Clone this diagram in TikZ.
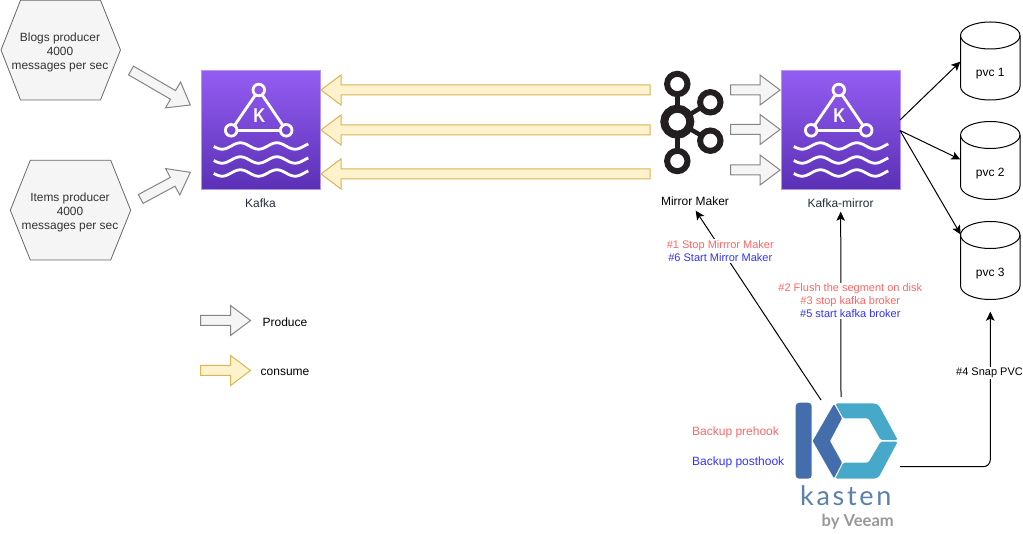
\documentclass[tikz,border=0pt]{standalone}
\usepackage{fontspec}
\setmainfont{Liberation Sans}
\newfontfamily\kastenfont[LetterSpace=10]{Lato}
\newfontfamily\veeamfont{Lato}
\usetikzlibrary{arrows.meta,calc}
\definecolor{hexfill}{HTML}{F5F5F5}
\definecolor{hexline}{HTML}{666666}
\definecolor{hextext}{HTML}{333333}
\definecolor{yelfill}{HTML}{FFF2CC}
\definecolor{yelline}{HTML}{D6B656}
\definecolor{purtop}{HTML}{945DF2}
\definecolor{purbot}{HTML}{5A30B5}
\definecolor{purline}{HTML}{B794F0}
\definecolor{awstext}{HTML}{232F3E}
\definecolor{hookred}{HTML}{FF6666}
\definecolor{hookblue}{HTML}{3333FF}
\definecolor{logoblack}{HTML}{231F20}
\definecolor{kblue}{HTML}{446DAB}
\definecolor{kteal}{HTML}{47A9C9}
\definecolor{kword}{HTML}{5B80AE}
\definecolor{kgrey}{HTML}{999999}
\tikzset{
  hexshape/.style={draw=hexline,fill=hexfill,line width=0.8pt,line join=miter},
  hextxt/.style={text=hextext,font=\fontsize{11.9}{14}\selectfont,align=center,inner sep=0pt},
  greyarrow/.style={draw=hexline!80,fill=hexfill,line width=1pt},
  yelarrow/.style={draw=yelline,fill=yelfill,line width=1pt},
  kafkabox/.style={draw=purline,line width=1pt,top color=purtop,bottom color=purbot,minimum width=119pt,minimum height=119pt,inner sep=0pt},
  iconline/.style={draw=white,line width=2.8pt,line cap=round},
  lbl/.style={font=\fontsize{11}{13}\selectfont,inner sep=0pt,align=center},
  biglbl/.style={lbl,font=\fontsize{12}{14}\selectfont},
  lblbg/.style={lbl,fill=white,inner sep=1pt},
  conn/.style={draw=black,line width=1pt,-{Stealth[length=9pt,width=8.5pt,inset=2pt]}},
  cyl/.style={draw=black,line width=1pt,fill=white},
  logoring/.style={draw=logoblack,line width=6pt},
  logobar/.style={draw=logoblack,line width=4.5pt}
}
% block arrow from named coordinate #1 to named coordinate #2
\newcommand{\blockarrow}[3]{%
  \coordinate (hb) at ($(#2)!20pt!(#1)$);
  \draw[#3] ($(#1)!5pt!90:(hb)$) -- ($(hb)!5pt!90:(#2)$) -- ($(hb)!15pt!90:(#2)$) -- (#2)
    -- ($(hb)!15pt!-90:(#2)$) -- ($(hb)!5pt!-90:(#2)$) -- ($(#1)!5pt!-90:(hb)$) -- cycle;
}
% kafka tile: #1 name, #2 x centre
\newcommand{\kafkatile}[2]{%
  \node[kafkabox] (#1) at (#2,130.5) {};
  \begin{scope}[shift={(#2-260,0)}]
    \coordinate (#1t) at (258.3,90);
    \coordinate (#1l) at (230.7,130.3);
    \coordinate (#1r) at (285.7,130.3);
    \draw[iconline,line cap=butt,shorten <=6pt,shorten >=6pt] (#1t) -- (#1l);
    \draw[iconline,line cap=butt,shorten <=6pt,shorten >=6pt] (#1t) -- (#1r);
    \draw[iconline,line cap=butt,shorten <=6pt,shorten >=6pt] (#1l) -- (#1r);
    \draw[iconline] (#1t) circle[radius=5.8pt];
    \draw[iconline] (#1l) circle[radius=5.8pt];
    \draw[iconline] (#1r) circle[radius=5.8pt];
    \node[text=white,font=\bfseries\fontsize{20}{20}\selectfont,inner sep=0pt,xscale=0.82] (#1k) at (258.7,116) {K};
    \foreach \yy in {146,160,173}{
      \draw[iconline,line cap=butt,smooth] plot[domain=0:94.5,samples=70] ({213.3+\x},{\yy+3.2*cos((\x-8.3)/36.5*360)});
    }
  \end{scope}
}
% cylinder: #1 name, #2 top y, #3 label
\newcommand{\pvc}[3]{%
  \begin{scope}[shift={(0,#2)}]
    \draw[cyl] (960.5,14) .. controls (960.5,6.5) and (974,0.5) .. (990.3,0.5)
      .. controls (1006.5,0.5) and (1020,6.5) .. (1020,14) -- (1020,65)
      .. controls (1020,72.5) and (1006.5,78.5) .. (990.3,78.5)
      .. controls (974,78.5) and (960.5,72.5) .. (960.5,65) -- cycle;
    \draw[draw=black,line width=1pt] (960.5,14) .. controls (960.5,21.5) and (974,27.5) .. (990.3,27.5)
      .. controls (1006.5,27.5) and (1020,21.5) .. (1020,14);
    \node[biglbl] (#1) at (990.3,52.5) {#3};
  \end{scope}
}
\begin{document}
\begin{tikzpicture}[x=1pt,y=-1pt]
\useasboundingbox (0,0) rectangle (1023,534);

% hexagons
\draw[hexshape] (1,50) -- (20.5,0.3) -- (100.5,0.3) -- (120.5,50) -- (100.5,100) -- (20.5,100) -- cycle;
\node[hextxt] (blogs) at (60,52.7) {Blogs producer\\4000\\messages per sec};
\draw[hexshape] (10.3,210.3) -- (30.3,160.3) -- (110.7,160.3) -- (130.7,210.3) -- (110.7,260) -- (30.3,260) -- cycle;
\node[hextxt] (items) at (70,212.7) {Items producer\\4000\\messages per sec};

% kafka tiles
\kafkatile{kafka}{260.5}
\kafkatile{kmirror}{840.5}
\node[biglbl,text=awstext] (kafkalbl) at (260.5,203.6) {Kafka};
\node[biglbl,text=awstext] (kmirrorlbl) at (840.5,203.6) {Kafka-mirror};

% producer arrows
\coordinate (a1s) at (131,70.5); \coordinate (a1e) at (190.3,105);
\blockarrow{a1s}{a1e}{greyarrow}
\coordinate (a2s) at (140.7,199); \coordinate (a2e) at (190.3,172.3);
\blockarrow{a2s}{a2e}{greyarrow}

% consume arrows to Kafka
\coordinate (y1s) at (650,90); \coordinate (y1e) at (321,90);
\blockarrow{y1s}{y1e}{yelarrow}
\coordinate (y2s) at (650,130); \coordinate (y2e) at (321,130);
\blockarrow{y2s}{y2e}{yelarrow}
\coordinate (y3s) at (650,174); \coordinate (y3e) at (321,174);
\blockarrow{y3s}{y3e}{yelarrow}

% produce arrows to Kafka-mirror
\coordinate (g1s) at (730.5,90); \coordinate (g1e) at (780,90);
\blockarrow{g1s}{g1e}{greyarrow}
\coordinate (g2s) at (730.5,129.5); \coordinate (g2e) at (780,129.5);
\blockarrow{g2s}{g2e}{greyarrow}
\coordinate (g3s) at (730.5,170); \coordinate (g3e) at (780,170);
\blockarrow{g3s}{g3e}{greyarrow}

% mirror maker logo
\coordinate (mc) at (677.3,121.7);
\coordinate (mt) at (677.3,84);
\coordinate (mb) at (677.3,161);
\coordinate (mu) at (710.3,102.3);
\coordinate (md) at (710.3,140.7);
\foreach \pp in {mt,mb,mu,md}{\draw[logobar] (mc) -- (\pp);}
\draw[logoblack,line width=8pt,fill=white] (mc) circle[radius=13pt];
\foreach \pp in {mt,mb,mu,md}{\draw[logoring,fill=white] (\pp) circle[radius=10.2pt];}
\node[biglbl] (mmlbl) at (695,201.4) {Mirror Maker};

% pvcs
\pvc{pvca}{21.5}{pvc 1}
\pvc{pvcb}{121}{pvc 2}
\pvc{pvcc}{221}{pvc 3}

% kafka-mirror to pvcs
\coordinate (ms1) at (900,120); \coordinate (ms2) at (900,130.5);
\coordinate (pe1) at (960.3,61.7); \coordinate (pe2) at (960.3,159.5); \coordinate (pe3) at (960.7,234.5);
\draw[conn] (ms1) -- (pe1);
\draw[conn] (ms2) -- (pe2);
\draw[conn] (ms2) -- (pe3);

% kasten logo
\node[draw=none,fill=kblue,rounded corners=3.5pt,minimum width=16pt,minimum height=76pt,inner sep=0pt] (kbar) at (803.7,440.7) {};
\fill[kblue,rounded corners=1pt] (834,404) -- (842,418.3) -- (830,441) -- (842,462.7) -- (834,478.3) -- (812.7,441) -- cycle;
\fill[kteal,rounded corners=1.5pt] (835.3,403.5) -- (875,403.5) -- (879,405.5) -- (897.7,440) -- (880.7,440) -- (868.3,418.3) -- (843.3,418.3) -- cycle;
\fill[kteal,rounded corners=1.5pt] (835.3,478.7) -- (875,478.7) -- (879,476.7) -- (897.7,441.7) -- (880.7,441.7) -- (868.3,462.7) -- (843.3,462.7) -- cycle;
\node[anchor=base west,inner sep=0pt,text=kword,font=\kastenfont\fontsize{27}{27}\selectfont] (kword) at (800,505) {kasten};
\node[anchor=base east,inner sep=0pt,text=kgrey,font=\veeamfont\bfseries\fontsize{16.6}{17}\selectfont] (kveeam) at (894,526.5) {by Veeam};
\coordinate (kpre) at (821,400);
\coordinate (kup) at (841,397);
\coordinate (kright) at (900,466.7);

% connectors from kasten
\coordinate (mmtip) at (695.7,210.7);
\coordinate (kmtip) at (840.7,211.7);
\coordinate (pc3tip) at (990.3,311.7);
\draw[conn] (kpre) -- (mmtip);
\draw[conn] (kup) -- (kmtip);
\draw[conn,rounded corners=7pt] (kright) -| (pc3tip);
\node[lblbg] (hook1) at (720.3,251) {\textcolor{hookred}{\#1 Stop Mirrror Maker}\\\textcolor{hookblue}{\#6 Start Mirror Maker}};
\node[lblbg] (hook2) at (850.3,300.7) {\textcolor{hookred}{\#2 Flush the segment on disk}\\\textcolor{hookred}{\#3 stop kafka broker}\\\textcolor{hookblue}{\#5 start kafka broker}};
\node[lblbg] (hook4) at (989.5,373.2) {\#4 Snap PVC};
\node[lbl,anchor=west,text=hookred,font=\fontsize{12}{14}\selectfont] (prehook) at (692,432) {Backup prehook};
\node[lbl,anchor=west,text=hookblue,font=\fontsize{12}{14}\selectfont] (posthook) at (692,462) {Backup posthook};

% legend
\coordinate (l1s) at (200.5,320.5); \coordinate (l1e) at (250.5,320.5);
\blockarrow{l1s}{l1e}{greyarrow}
\coordinate (l2s) at (200.5,370.5); \coordinate (l2e) at (250.5,370.5);
\blockarrow{l2s}{l2e}{yelarrow}
\node[biglbl] (producelbl) at (285,322) {Produce};
\node[biglbl] (consumelbl) at (285,372) {consume};
\end{tikzpicture}
\end{document}
